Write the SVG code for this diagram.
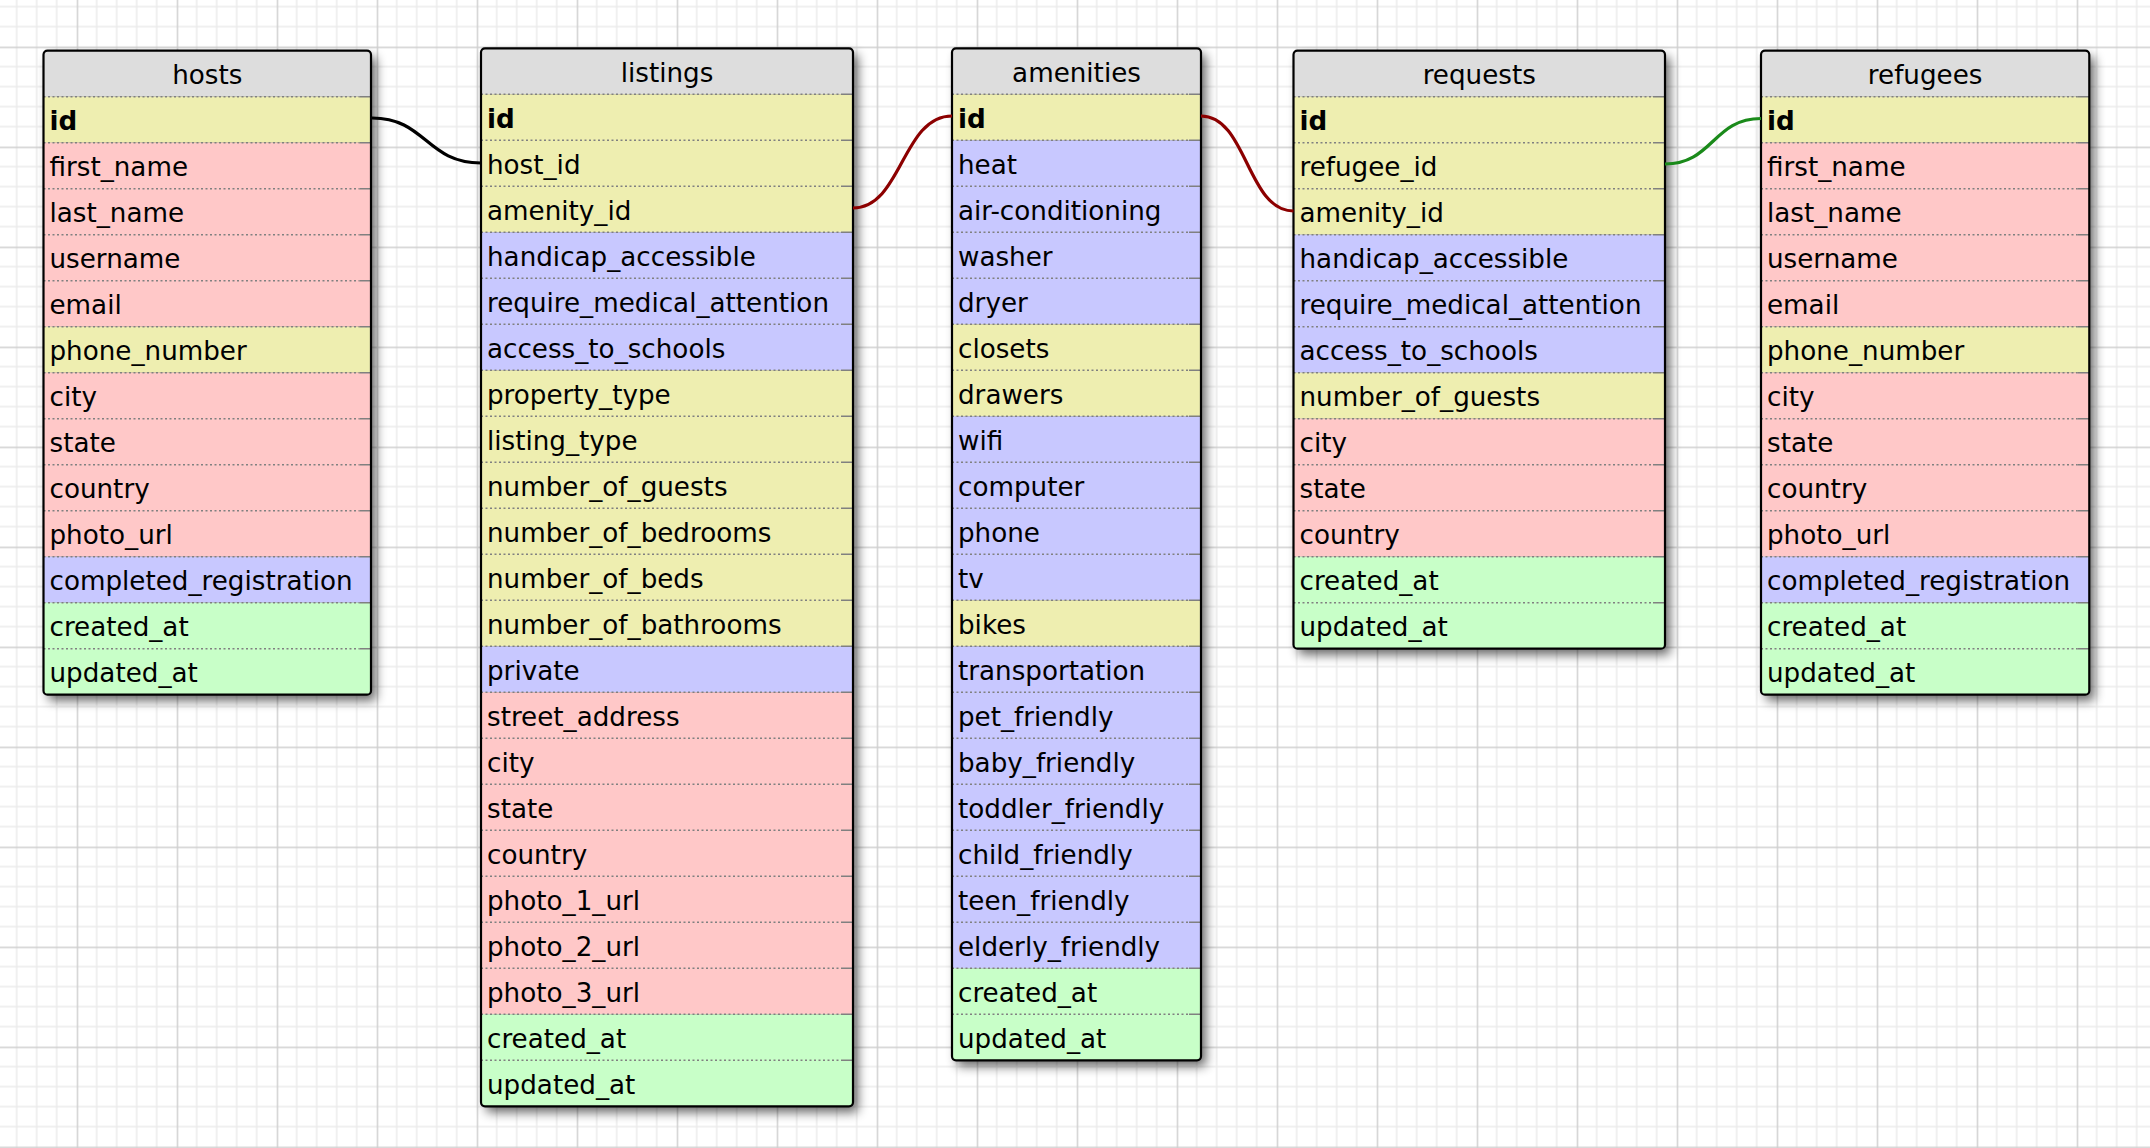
<svg xmlns="http://www.w3.org/2000/svg" width="2150" height="1148" viewBox="0 0 2150 1148">
<style>
text{font-family:"DejaVu Sans","Verdana",sans-serif;font-size:26.2px;fill:#000}
.t{text-anchor:middle}
.k{font-weight:bold}
.h{fill:#dddddd}
.y{fill:#eeeeb0}
.p{fill:#ffc8c8}
.b{fill:#c8c8ff}
.g{fill:#c8ffc8}
.sep{stroke:#808080;stroke-width:1.6;stroke-dasharray:2 2.5;fill:none}
.end{stroke:#808080;stroke-width:1.6;fill:none}
.bd{fill:none;stroke:#000;stroke-width:2.2}
.sh{fill:#000;opacity:0.6;filter:url(#blur)}
.c{fill:none;stroke-width:3.2}
</style>
<defs>
<pattern id="grid" patternUnits="userSpaceOnUse" x="76.7" y="46.6" width="100" height="100">
<rect width="100" height="100" fill="#ffffff"/>
<path d="M20 0V100M40 0V100M60 0V100M80 0V100M0 20H100M0 40H100M0 60H100M0 80H100" stroke="#ebebeb" stroke-width="1.4"/>
<path d="M0.7 0V100M0 0.7H100" stroke="#cfcfcf" stroke-width="1.4"/>
</pattern>
<filter id="blur" x="-10%" y="-10%" width="120%" height="120%"><feGaussianBlur stdDeviation="5.5"/></filter>
<clipPath id="c1"><rect width="327.5" height="644" rx="4"/></clipPath>
<clipPath id="c2"><rect width="372" height="1058" rx="4"/></clipPath>
<clipPath id="c3"><rect width="249" height="1012" rx="4"/></clipPath>
<clipPath id="c4"><rect width="371.5" height="598" rx="4"/></clipPath>
<clipPath id="c5"><rect width="328.3" height="644" rx="4"/></clipPath>
</defs>
<rect width="2150" height="1148" fill="url(#grid)"/>

<g id="hosts" transform="translate(43.5,50.7)">
<rect class="sh" x="5" y="6" width="327.5" height="644" rx="4"/>
<g clip-path="url(#c1)">
<rect class="h" width="327.5" height="46"/>
<rect class="y" y="46" width="327.5" height="46"/>
<rect class="p" y="92" width="327.5" height="184"/>
<rect class="y" y="276" width="327.5" height="46"/>
<rect class="p" y="322" width="327.5" height="184"/>
<rect class="b" y="506" width="327.5" height="46"/>
<rect class="g" y="552" width="327.5" height="92"/>
</g>
<path class="sep" d="M0 46H316M0 92H316M0 138H316M0 184H316M0 230H316M0 276H316M0 322H316M0 368H316M0 414H316M0 460H316M0 506H316M0 552H316M0 598H316"/>
<path class="end" d="M316 46H327.5M316 92H327.5M316 138H327.5M316 184H327.5M316 230H327.5M316 276H327.5M316 322H327.5M316 368H327.5M316 414H327.5M316 460H327.5M316 506H327.5M316 552H327.5M316 598H327.5"/>
<text class="t" x="163.75" y="33.4">hosts</text>
<text class="k" x="6" y="79.4">id</text>
<text x="6" y="125.4">first_name</text>
<text x="6" y="171.4">last_name</text>
<text x="6" y="217.4">username</text>
<text x="6" y="263.4">email</text>
<text x="6" y="309.4">phone_number</text>
<text x="6" y="355.4">city</text>
<text x="6" y="401.4">state</text>
<text x="6" y="447.4">country</text>
<text x="6" y="493.4">photo_url</text>
<text x="6" y="539.4">completed_registration</text>
<text x="6" y="585.4">created_at</text>
<text x="6" y="631.4">updated_at</text>
<rect class="bd" width="327.5" height="644" rx="4"/>
</g>

<g id="listings" transform="translate(481,48.3)">
<rect class="sh" x="5" y="6" width="372" height="1058" rx="4"/>
<g clip-path="url(#c2)">
<rect class="h" width="372" height="46"/>
<rect class="y" y="46" width="372" height="138"/>
<rect class="b" y="184" width="372" height="138"/>
<rect class="y" y="322" width="372" height="276"/>
<rect class="b" y="598" width="372" height="46"/>
<rect class="p" y="644" width="372" height="322"/>
<rect class="g" y="966" width="372" height="92"/>
</g>
<path class="sep" d="M0 46H360M0 92H360M0 138H360M0 184H360M0 230H360M0 276H360M0 322H360M0 368H360M0 414H360M0 460H360M0 506H360M0 552H360M0 598H360M0 644H360M0 690H360M0 736H360M0 782H360M0 828H360M0 874H360M0 920H360M0 966H360M0 1012H360"/>
<path class="end" d="M360 46H372M360 92H372M360 138H372M360 184H372M360 230H372M360 276H372M360 322H372M360 368H372M360 414H372M360 460H372M360 506H372M360 552H372M360 598H372M360 644H372M360 690H372M360 736H372M360 782H372M360 828H372M360 874H372M360 920H372M360 966H372M360 1012H372"/>
<text class="t" x="186" y="33.4">listings</text>
<text class="k" x="6" y="79.4">id</text>
<text x="6" y="125.4">host_id</text>
<text x="6" y="171.4">amenity_id</text>
<text x="6" y="217.4">handicap_accessible</text>
<text x="6" y="263.4">require_medical_attention</text>
<text x="6" y="309.4">access_to_schools</text>
<text x="6" y="355.4">property_type</text>
<text x="6" y="401.4">listing_type</text>
<text x="6" y="447.4">number_of_guests</text>
<text x="6" y="493.4">number_of_bedrooms</text>
<text x="6" y="539.4">number_of_beds</text>
<text x="6" y="585.4">number_of_bathrooms</text>
<text x="6" y="631.4">private</text>
<text x="6" y="677.4">street_address</text>
<text x="6" y="723.4">city</text>
<text x="6" y="769.4">state</text>
<text x="6" y="815.4">country</text>
<text x="6" y="861.4">photo_1_url</text>
<text x="6" y="907.4">photo_2_url</text>
<text x="6" y="953.4">photo_3_url</text>
<text x="6" y="999.4">created_at</text>
<text x="6" y="1045.4">updated_at</text>
<rect class="bd" width="372" height="1058" rx="4"/>
</g>

<g id="amenities" transform="translate(952,48.3)">
<rect class="sh" x="5" y="6" width="249" height="1012" rx="4"/>
<g clip-path="url(#c3)">
<rect class="h" width="249" height="46"/>
<rect class="y" y="46" width="249" height="46"/>
<rect class="b" y="92" width="249" height="184"/>
<rect class="y" y="276" width="249" height="92"/>
<rect class="b" y="368" width="249" height="184"/>
<rect class="y" y="552" width="249" height="46"/>
<rect class="b" y="598" width="249" height="322"/>
<rect class="g" y="920" width="249" height="92"/>
</g>
<path class="sep" d="M0 46H237M0 92H237M0 138H237M0 184H237M0 230H237M0 276H237M0 322H237M0 368H237M0 414H237M0 460H237M0 506H237M0 552H237M0 598H237M0 644H237M0 690H237M0 736H237M0 782H237M0 828H237M0 874H237M0 920H237M0 966H237"/>
<path class="end" d="M237 46H249M237 92H249M237 138H249M237 184H249M237 230H249M237 276H249M237 322H249M237 368H249M237 414H249M237 460H249M237 506H249M237 552H249M237 598H249M237 644H249M237 690H249M237 736H249M237 782H249M237 828H249M237 874H249M237 920H249M237 966H249"/>
<text class="t" x="124.5" y="33.4">amenities</text>
<text class="k" x="6" y="79.4">id</text>
<text x="6" y="125.4">heat</text>
<text x="6" y="171.4">air-conditioning</text>
<text x="6" y="217.4">washer</text>
<text x="6" y="263.4">dryer</text>
<text x="6" y="309.4">closets</text>
<text x="6" y="355.4">drawers</text>
<text x="6" y="401.4">wifi</text>
<text x="6" y="447.4">computer</text>
<text x="6" y="493.4">phone</text>
<text x="6" y="539.4">tv</text>
<text x="6" y="585.4">bikes</text>
<text x="6" y="631.4">transportation</text>
<text x="6" y="677.4">pet_friendly</text>
<text x="6" y="723.4">baby_friendly</text>
<text x="6" y="769.4">toddler_friendly</text>
<text x="6" y="815.4">child_friendly</text>
<text x="6" y="861.4">teen_friendly</text>
<text x="6" y="907.4">elderly_friendly</text>
<text x="6" y="953.4">created_at</text>
<text x="6" y="999.4">updated_at</text>
<rect class="bd" width="249" height="1012" rx="4"/>
</g>

<g id="requests" transform="translate(1293.5,50.7)">
<rect class="sh" x="5" y="6" width="371.5" height="598" rx="4"/>
<g clip-path="url(#c4)">
<rect class="h" width="371.5" height="46"/>
<rect class="y" y="46" width="371.5" height="138"/>
<rect class="b" y="184" width="371.5" height="138"/>
<rect class="y" y="322" width="371.5" height="46"/>
<rect class="p" y="368" width="371.5" height="138"/>
<rect class="g" y="506" width="371.5" height="92"/>
</g>
<path class="sep" d="M0 46H359.5M0 92H359.5M0 138H359.5M0 184H359.5M0 230H359.5M0 276H359.5M0 322H359.5M0 368H359.5M0 414H359.5M0 460H359.5M0 506H359.5M0 552H359.5"/>
<path class="end" d="M359.5 46H371.5M359.5 92H371.5M359.5 138H371.5M359.5 184H371.5M359.5 230H371.5M359.5 276H371.5M359.5 322H371.5M359.5 368H371.5M359.5 414H371.5M359.5 460H371.5M359.5 506H371.5M359.5 552H371.5"/>
<text class="t" x="185.75" y="33.4">requests</text>
<text class="k" x="6" y="79.4">id</text>
<text x="6" y="125.4">refugee_id</text>
<text x="6" y="171.4">amenity_id</text>
<text x="6" y="217.4">handicap_accessible</text>
<text x="6" y="263.4">require_medical_attention</text>
<text x="6" y="309.4">access_to_schools</text>
<text x="6" y="355.4">number_of_guests</text>
<text x="6" y="401.4">city</text>
<text x="6" y="447.4">state</text>
<text x="6" y="493.4">country</text>
<text x="6" y="539.4">created_at</text>
<text x="6" y="585.4">updated_at</text>
<rect class="bd" width="371.5" height="598" rx="4"/>
</g>

<g id="refugees" transform="translate(1761,50.7)">
<rect class="sh" x="5" y="6" width="328.3" height="644" rx="4"/>
<g clip-path="url(#c5)">
<rect class="h" width="328.3" height="46"/>
<rect class="y" y="46" width="328.3" height="46"/>
<rect class="p" y="92" width="328.3" height="184"/>
<rect class="y" y="276" width="328.3" height="46"/>
<rect class="p" y="322" width="328.3" height="184"/>
<rect class="b" y="506" width="328.3" height="46"/>
<rect class="g" y="552" width="328.3" height="92"/>
</g>
<path class="sep" d="M0 46H316.3M0 92H316.3M0 138H316.3M0 184H316.3M0 230H316.3M0 276H316.3M0 322H316.3M0 368H316.3M0 414H316.3M0 460H316.3M0 506H316.3M0 552H316.3M0 598H316.3"/>
<path class="end" d="M316.3 46H328.3M316.3 92H328.3M316.3 138H328.3M316.3 184H328.3M316.3 230H328.3M316.3 276H328.3M316.3 322H328.3M316.3 368H328.3M316.3 414H328.3M316.3 460H328.3M316.3 506H328.3M316.3 552H328.3M316.3 598H328.3"/>
<text class="t" x="164.15" y="33.4">refugees</text>
<text class="k" x="6" y="79.4">id</text>
<text x="6" y="125.4">first_name</text>
<text x="6" y="171.4">last_name</text>
<text x="6" y="217.4">username</text>
<text x="6" y="263.4">email</text>
<text x="6" y="309.4">phone_number</text>
<text x="6" y="355.4">city</text>
<text x="6" y="401.4">state</text>
<text x="6" y="447.4">country</text>
<text x="6" y="493.4">photo_url</text>
<text x="6" y="539.4">completed_registration</text>
<text x="6" y="585.4">created_at</text>
<text x="6" y="631.4">updated_at</text>
<rect class="bd" width="328.3" height="644" rx="4"/>
</g>

<g id="connectors">
<path class="c" stroke="#000000" d="M372 118C426 118 426 163 481 163"/>
<path class="c" stroke="#8c0000" d="M853 208C902 208 902 116 952 116"/>
<path class="c" stroke="#8c0000" d="M1201 116C1247 116 1247 211 1293.5 211"/>
<path class="c" stroke="#1a8a1a" d="M1665 164C1713 164 1713 118.5 1761 118.5"/>
</g>
</svg>
